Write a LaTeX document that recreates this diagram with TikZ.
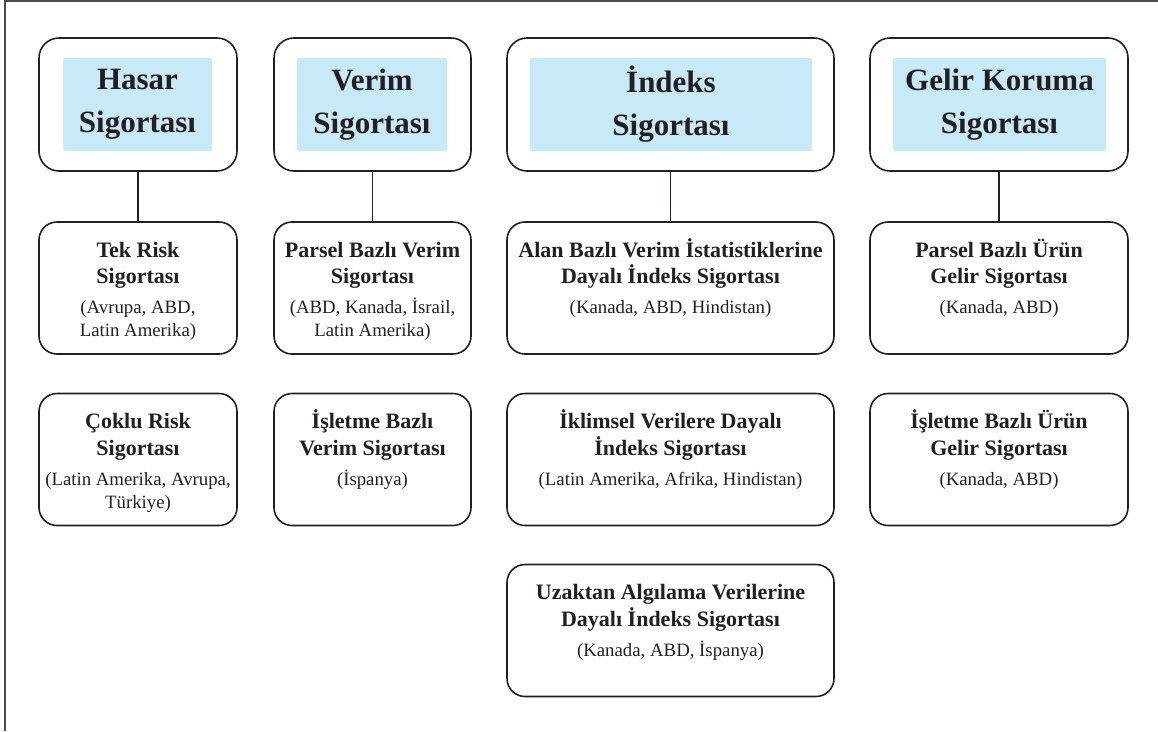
\documentclass[tikz,border=0pt]{standalone}
\usepackage{fontspec}
\setmainfont{Liberation Serif}
\definecolor{ink}{HTML}{231F20}
\definecolor{skyfill}{HTML}{C8E9F8}
\newcommand{\cardtxt}[3]{\parbox[c][132pt][t]{#1}{\centering
  \fontsize{22}{26.5}\selectfont\bfseries\rule{0pt}{35pt}#2\par
  \vspace{7pt}\fontsize{18.8}{23}\selectfont\mdseries #3\par}}
\begin{document}
\begin{tikzpicture}[x=1pt,y=-1pt,
  topbox/.style={draw=ink, line width=1.6pt, rounded corners=20pt, minimum height=133pt, inner sep=0pt, fill=white},
  titlefill/.style={fill=skyfill, rounded corners=2pt, inner sep=0pt, minimum height=93pt,
    font=\fontsize{31}{43}\selectfont\bfseries, text=ink, align=center},
  card/.style={draw=ink, line width=1.6pt, rounded corners=18pt, inner sep=0pt, text=ink, fill=white},
  link/.style={draw=ink, line width=1.5pt},
  frame/.style={draw=black!70, line width=1.8pt}]
\useasboundingbox (0,0) rectangle (1158,731);
% frame (top and left edges)
\draw[frame] (1158,1) -- (5.2,1) -- (5.2,731);

% top level boxes
\node[topbox, minimum width=198pt] (hasar) at (138,104.5) {};
\node[topbox, minimum width=197pt] (verim) at (372.5,104.5) {};
\node[topbox, minimum width=327pt] (indeks) at (670.5,104.5) {};
\node[topbox, minimum width=258pt] (gelir) at (999,104.5) {};

\node[titlefill, minimum width=149pt] (hasarT) at (137.5,104.5) {Hasar\\Sigortası};
\node[titlefill, minimum width=150pt] (verimT) at (372,104.5) {Verim\\Sigortası};
\node[titlefill, minimum width=282pt] (indeksT) at (671,104.5) {İndeks\\Sigortası};
\node[titlefill, minimum width=213pt] (gelirT) at (999.5,104.5) {Gelir Koruma\\Sigortası};

% column 1
\node[card, minimum width=198pt] (tek) at (138,288)
  {\cardtxt{194pt}{Tek Risk\\Sigortası}{(Avrupa, ABD,\\Latin Amerika)}};
\node[card, minimum width=198pt] (coklu) at (138,459.5)
  {\cardtxt{194pt}{Çoklu Risk\\Sigortası}{(Latin Amerika, Avrupa,\\Türkiye)}};

% column 2
\node[card, minimum width=197pt] (parsel) at (372.5,288)
  {\cardtxt{193pt}{Parsel Bazlı Verim\\Sigortası}{(ABD, Kanada, İsrail,\\Latin Amerika)}};
\node[card, minimum width=197pt] (isletmeV) at (372.5,459.5)
  {\cardtxt{193pt}{İşletme Bazlı\\Verim Sigortası}{(İspanya)}};

% column 3
\node[card, minimum width=327pt] (alan) at (670.5,288)
  {\cardtxt{323pt}{Alan Bazlı Verim İstatistiklerine\\Dayalı İndeks Sigortası}{(Kanada, ABD, Hindistan)}};
\node[card, minimum width=327pt] (iklim) at (670.5,459.5)
  {\cardtxt{323pt}{İklimsel Verilere Dayalı\\İndeks Sigortası}{(Latin Amerika, Afrika, Hindistan)}};
\node[card, minimum width=327pt] (uzak) at (670.5,630.5)
  {\cardtxt{323pt}{Uzaktan Algılama Verilerine\\Dayalı İndeks Sigortası}{(Kanada, ABD, İspanya)}};

% column 4
\node[card, minimum width=258pt] (parselU) at (999,288)
  {\cardtxt{254pt}{Parsel Bazlı Ürün\\Gelir Sigortası}{(Kanada, ABD)}};
\node[card, minimum width=258pt] (isletmeU) at (999,459.5)
  {\cardtxt{254pt}{İşletme Bazlı Ürün\\Gelir Sigortası}{(Kanada, ABD)}};

% connectors
\draw[link] (hasar.south) -- (tek.north);
\draw[link] (verim.south) -- (parsel.north);
\draw[link] (indeks.south) -- (alan.north);
\draw[link] (gelir.south) -- (parselU.north);
\end{tikzpicture}
\end{document}
